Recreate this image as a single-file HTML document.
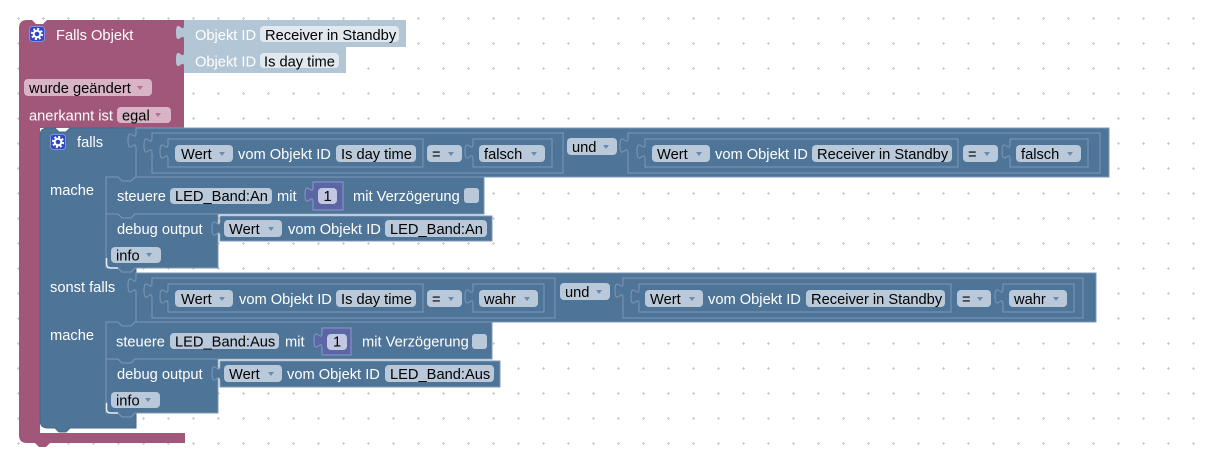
<!DOCTYPE html>
<html><head><meta charset="utf-8"><style>
html,body{margin:0;padding:0;background:#fff;}
svg{display:block;}
text{font-family:"Liberation Sans",Arial,sans-serif;font-size:14.67px;}
.w{fill:#fff}
.k{fill:#000}
.n{fill:#4E7498;stroke:#7f99b6;stroke-width:1}
.pl{fill:#B9C9DA}
.ar{fill:#6b8bad}
.ob{fill:#B3C6D6}
</style></head><body>
<svg width="1215" height="463" xmlns="http://www.w3.org/2000/svg">
<defs>
<pattern id="g" width="25" height="25" patternUnits="userSpaceOnUse">
<rect x="17" y="18" width="3" height="1" fill="#cfcfcf"/><rect x="18" y="17" width="1" height="3" fill="#cfcfcf"/>
</pattern>
<g id="gear">
<rect x="0.5" y="0.5" width="15" height="15" rx="3" fill="#2D47C6" stroke="#8191dd"/>
<circle cx="8" cy="8" r="3.3" fill="none" stroke="#fff" stroke-width="2"/>
<circle cx="8" cy="8" r="5" fill="none" stroke="#fff" stroke-width="2.2" stroke-dasharray="2 1.93"/>
</g>
</defs>
<rect width="1215" height="463" fill="url(#g)"/>

<!-- maroon block -->
<path d="M27,20 H32 L36,24 H43 L47,20 H184 V128 H40 V433 H185 V443 H50 L46,447 H39 L35,443 H27 Q19,443 19,435 V28 Q19,20 27,20 Z" fill="#A0577A"/>
<!-- Objekt ID blocks -->
<path class="ob" d="M184,20 H406 V47 H184 V40 c0,-10 -8,8 -8,-7.5 s8,2.5 8,-7.5 Z"/>
<path class="ob" d="M184,47 H346 V73 H184 V67 c0,-10 -8,8 -8,-7.5 s8,2.5 8,-7.5 Z"/>
<rect x="260" y="26" width="139" height="16" rx="4" fill="#E1E8EF"/>
<rect x="260" y="53" width="79" height="15" rx="4" fill="#E1E8EF"/>
<text x="195" y="40" class="w">Objekt ID</text>
<text x="265" y="40" class="k">Receiver in Standby</text>
<text x="195" y="66.5" class="w">Objekt ID</text>
<text x="264" y="66.5" class="k">Is day time</text>

<use href="#gear" x="29" y="26"/>
<text x="56" y="40" class="w">Falls Objekt</text>
<rect x="24" y="79" width="128" height="17" rx="4" fill="#D8B4C6"/>
<text x="29" y="93" class="k">wurde geändert</text>
<polygon points="137,86 143,86 140,90" fill="#b2718f"/>
<text x="29" y="120.5" class="w">anerkannt ist</text>
<rect x="117" y="107" width="54" height="16" rx="4" fill="#D8B4C6"/>
<text x="122" y="120.5" class="k">egal</text>
<polygon points="155,113 161,113 158,117" fill="#b2718f"/>

<!-- falls block -->
<path d="M48,128 H55 L59,132 H66 L70,128 H1109 V177 H135 L131,181 H122 L118,177 H106 V268 H136 V273 H1096 V322 H135 L131,326 H122 L118,322 H106 V413 H136 V428 H70 L66,432 H59 L55,428 H48 Q40,428 40,420 V136 Q40,128 48,128 Z" fill="#4E7498" stroke="#45688c" stroke-width="1"/>
<use href="#gear" x="50" y="134"/>
<text x="77" y="147" class="w">falls</text>
<text x="50" y="195" class="w">mache</text>
<text x="50" y="292" class="w">sonst falls</text>
<text x="50" y="340" class="w">mache</text>

<!-- row 1 condition -->
<path class="n" d="M136,128 H1109 V177 H136 V148 c0,-10 -8,8 -8,-7.5 s8,2.5 8,-7.5 Z"/>
<path class="n" d="M152,133 H563 V173 H152 V153 c0,-10 -8,8 -8,-7.5 s8,2.5 8,-7.5 Z"/>
<path class="n" d="M168,139 H423 V167 H168 V159 c0,-10 -8,8 -8,-7.5 s8,2.5 8,-7.5 Z"/>
<rect class="pl" x="175" y="145" width="58" height="17" rx="4"/>
<text x="181" y="159" class="k">Wert</text>
<polygon class="ar" points="219,152 225,152 222,156"/>
<text x="238" y="159" class="w">vom Objekt ID</text>
<rect class="pl" x="336" y="145" width="80" height="17" rx="4"/>
<text x="341" y="159" class="k">Is day time</text>
<rect class="pl" x="427" y="145" width="35" height="17" rx="4"/>
<text x="432" y="159" class="k">=</text>
<polygon class="ar" points="448,152 454,152 451,156"/>
<path class="n" d="M473,139 H552 V167 H473 V159 c0,-10 -8,8 -8,-7.5 s8,2.5 8,-7.5 Z"/>
<rect class="pl" x="479" y="145" width="66" height="17" rx="4"/>
<text x="484" y="159" class="k">falsch</text>
<polygon class="ar" points="531,152 537,152 534,156"/>
<rect class="pl" x="567" y="138" width="50" height="17" rx="4"/>
<text x="572" y="152" class="k">und</text>
<polygon class="ar" points="603,145 609,145 606,149"/>
<path class="n" d="M628,133 H1100 V173 H628 V153 c0,-10 -8,8 -8,-7.5 s8,2.5 8,-7.5 Z"/>
<path class="n" d="M645,139 H958 V167 H645 V159 c0,-10 -8,8 -8,-7.5 s8,2.5 8,-7.5 Z"/>
<rect class="pl" x="652" y="145" width="58" height="17" rx="4"/>
<text x="657" y="159" class="k">Wert</text>
<polygon class="ar" points="696,152 702,152 699,156"/>
<text x="715" y="159" class="w">vom Objekt ID</text>
<rect class="pl" x="812" y="145" width="140" height="17" rx="4"/>
<text x="817" y="159" class="k">Receiver in Standby</text>
<rect class="pl" x="963" y="145" width="35" height="17" rx="4"/>
<text x="968" y="159" class="k">=</text>
<polygon class="ar" points="984,152 990,152 987,156"/>
<path class="n" d="M1010,139 H1088 V167 H1010 V159 c0,-10 -8,8 -8,-7.5 s8,2.5 8,-7.5 Z"/>
<rect class="pl" x="1016" y="145" width="65" height="17" rx="4"/>
<text x="1021" y="159" class="k">falsch</text>
<polygon class="ar" points="1067,152 1073,152 1070,156"/>

<!-- steuere 1 -->
<path class="n" d="M106,177 H118 L122,181 H131 L135,177 H484 V214 H135 L131,218 H122 L118,214 H106 Z"/>
<text x="117" y="201" class="w">steuere</text>
<rect class="pl" x="170" y="188" width="102" height="16" rx="4"/>
<text x="175" y="201" class="k">LED_Band:An</text>
<text x="277" y="201" class="w">mit</text>
<path d="M313,182 H343 V210 H313 V202 c0,-10 -8,8 -8,-7.5 s8,2.5 8,-7.5 Z" fill="#5B67A5" stroke="#8f97c8" stroke-width="1"/>
<rect x="318" y="188" width="19" height="16" rx="4" fill="#C3C8E2"/>
<text x="323.5" y="201" class="k">1</text>
<text x="353" y="201" class="w">mit Verzögerung</text>
<rect class="pl" x="464" y="188" width="15" height="15" rx="3"/>

<!-- debug 1 -->
<path class="n" d="M106,214 H118 L122,218 H131 L135,214 H218 V268 H135 L131,272 H122 L118,268 H106 Z"/>
<text x="117" y="234" class="w">debug output</text>
<path class="n" d="M220,216 H492 V241 H220 V236 c0,-10 -8,8 -8,-7.5 s8,2.5 8,-7.5 Z"/>
<rect class="pl" x="224" y="220" width="58" height="17" rx="4"/>
<text x="229" y="234" class="k">Wert</text>
<polygon class="ar" points="268,227 274,227 271,231"/>
<text x="288" y="234" class="w">vom Objekt ID</text>
<rect class="pl" x="385" y="220" width="102" height="17" rx="4"/>
<text x="390" y="234" class="k">LED_Band:An</text>
<rect class="pl" x="111" y="247" width="50" height="16" rx="4"/>
<text x="116" y="260.5" class="k">info</text>
<polygon class="ar" points="146,253 152,253 149,257"/>

<!-- row 2 condition -->
<path class="n" d="M136,273 H1096 V322 H136 V293 c0,-10 -8,8 -8,-7.5 s8,2.5 8,-7.5 Z"/>
<path class="n" d="M152,278 H555 V318 H152 V298 c0,-10 -8,8 -8,-7.5 s8,2.5 8,-7.5 Z"/>
<path class="n" d="M168,284 H423 V312 H168 V304 c0,-10 -8,8 -8,-7.5 s8,2.5 8,-7.5 Z"/>
<rect class="pl" x="175" y="290" width="58" height="17" rx="4"/>
<text x="181" y="304" class="k">Wert</text>
<polygon class="ar" points="219,297 225,297 222,301"/>
<text x="239" y="304" class="w">vom Objekt ID</text>
<rect class="pl" x="336" y="290" width="80" height="17" rx="4"/>
<text x="341" y="304" class="k">Is day time</text>
<rect class="pl" x="427" y="290" width="35" height="17" rx="4"/>
<text x="432" y="304" class="k">=</text>
<polygon class="ar" points="448,297 454,297 451,301"/>
<path class="n" d="M473,284 H544 V312 H473 V304 c0,-10 -8,8 -8,-7.5 s8,2.5 8,-7.5 Z"/>
<rect class="pl" x="479" y="290" width="59" height="17" rx="4"/>
<text x="484" y="304" class="k">wahr</text>
<polygon class="ar" points="524,297 530,297 527,301"/>
<rect class="pl" x="560" y="283" width="50" height="17" rx="4"/>
<text x="565" y="297" class="k">und</text>
<polygon class="ar" points="596,290 602,290 599,294"/>
<path class="n" d="M623,278 H1083 V318 H623 V298 c0,-10 -8,8 -8,-7.5 s8,2.5 8,-7.5 Z"/>
<path class="n" d="M639,284 H951 V312 H639 V304 c0,-10 -8,8 -8,-7.5 s8,2.5 8,-7.5 Z"/>
<rect class="pl" x="645" y="290" width="58" height="17" rx="4"/>
<text x="650" y="304" class="k">Wert</text>
<polygon class="ar" points="689,297 695,297 692,301"/>
<text x="708" y="304" class="w">vom Objekt ID</text>
<rect class="pl" x="806" y="290" width="139" height="17" rx="4"/>
<text x="811" y="304" class="k">Receiver in Standby</text>
<rect class="pl" x="957" y="290" width="34" height="17" rx="4"/>
<text x="962" y="304" class="k">=</text>
<polygon class="ar" points="977,297 983,297 980,301"/>
<path class="n" d="M1003,284 H1074 V312 H1003 V304 c0,-10 -8,8 -8,-7.5 s8,2.5 8,-7.5 Z"/>
<rect class="pl" x="1009" y="290" width="58" height="17" rx="4"/>
<text x="1014" y="304" class="k">wahr</text>
<polygon class="ar" points="1053,297 1059,297 1056,301"/>

<!-- steuere 2 -->
<path class="n" d="M106,322 H118 L122,326 H131 L135,322 H492 V359 H135 L131,363 H122 L118,359 H106 Z"/>
<text x="116" y="346.5" class="w">steuere</text>
<rect class="pl" x="170" y="333" width="109" height="16" rx="4"/>
<text x="175" y="346.5" class="k">LED_Band:Aus</text>
<text x="285" y="346.5" class="w">mit</text>
<path d="M322,328 H351 V355 H322 V348 c0,-10 -8,8 -8,-7.5 s8,2.5 8,-7.5 Z" fill="#5B67A5" stroke="#8f97c8" stroke-width="1"/>
<rect x="327" y="334" width="20" height="16" rx="4" fill="#C3C8E2"/>
<text x="333" y="346.5" class="k">1</text>
<text x="362" y="346.5" class="w">mit Verzögerung</text>
<rect class="pl" x="472" y="334" width="15" height="15" rx="3"/>

<!-- debug 2 -->
<path class="n" d="M106,359 H118 L122,363 H131 L135,359 H218 V413 H135 L131,417 H122 L118,413 H106 Z"/>
<text x="117" y="379" class="w">debug output</text>
<path class="n" d="M220,361 H500 V387 H220 V381 c0,-10 -8,8 -8,-7.5 s8,2.5 8,-7.5 Z"/>
<rect class="pl" x="224" y="365" width="58" height="17" rx="4"/>
<text x="229" y="379" class="k">Wert</text>
<polygon class="ar" points="268,372 274,372 271,376"/>
<text x="287" y="379" class="w">vom Objekt ID</text>
<rect class="pl" x="385" y="365" width="109" height="17" rx="4"/>
<text x="390" y="379" class="k">LED_Band:Aus</text>
<rect class="pl" x="111" y="392" width="49" height="16" rx="4"/>
<text x="116" y="405.5" class="k">info</text>
<polygon class="ar" points="145,398 151,398 148,402"/>

<!-- highlights -->
<path d="M106.5,258 V264 Q106.5,268 111,268 H118" fill="none" stroke="#e9eff5" stroke-width="1.5"/>
<path d="M106.5,403 V409 Q106.5,413 111,413 H118" fill="none" stroke="#e9eff5" stroke-width="1.5"/>
</svg>
</body></html>
